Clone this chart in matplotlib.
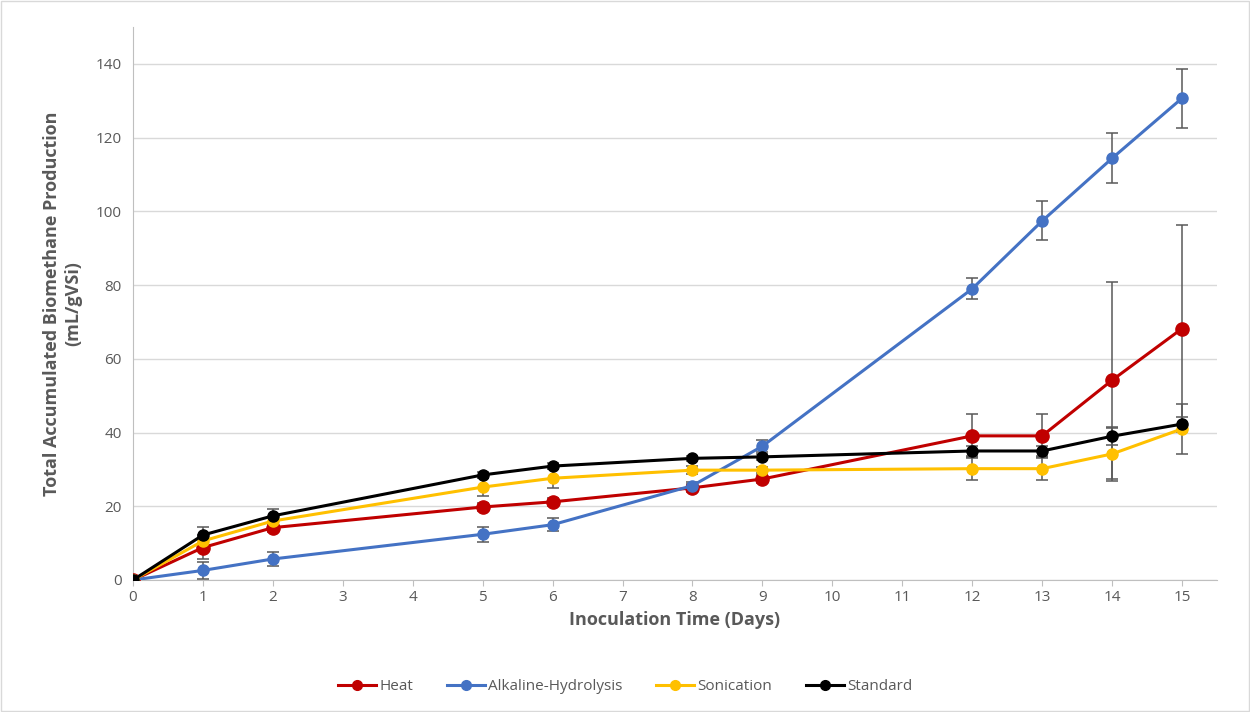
import numpy as np
import matplotlib.pyplot as plt
from matplotlib.lines import Line2D

plt.rcParams['font.family'] = ['Open Sans', 'DejaVu Sans']

days = [0, 1, 2, 5, 6, 8, 9, 12, 13, 14, 15]

heat = [0, 8.8, 14.2, 19.8, 21.2, 25.0, 27.4, 39.1, 39.1, 54.2, 68.2]
heat_err = [0, 3.2, 1.2, 1.0, 1.0, 1.0, 1.2, 6.0, 6.0, 26.7, 28.0]

alkaline = [0, 2.6, 5.7, 12.4, 15.0, 25.6, 36.3, 79.0, 97.4, 114.4, 130.7]
alkaline_err = [0, 2.3, 2.0, 2.0, 1.8, 1.0, 1.6, 2.8, 5.3, 6.8, 8.0]

sonication = [0, 10.6, 16.0, 25.2, 27.6, 29.8, 29.8, 30.2, 30.2, 34.2, 41.0]
sonication_err = [0, 1.5, 1.0, 2.5, 2.6, 1.0, 0.8, 3.2, 3.2, 7.4, 6.7]

standard = [0, 12.2, 17.4, 28.5, 30.9, 33.0, 33.4, 35.0, 35.0, 39.0, 42.3]
standard_err = [0, 2.2, 1.8, 0.8, 0.8, 0.6, 0.8, 1.4, 1.4, 2.3, 2.0]

series = [
    ("Heat", heat, heat_err, "#C00000", 9.5),
    ("Alkaline-Hydrolysis", alkaline, alkaline_err, "#4472C4", 8),
    ("Sonication", sonication, sonication_err, "#FFC000", 8),
    ("Standard", standard, standard_err, "#000000", 8),
]

fig = plt.figure(figsize=(12.5, 7.12), dpi=100)
ax = fig.add_axes([0.1064, 0.1854, 0.8672, 0.7766])

handles = []
for name, vals, err, col, ms in series:
    ax.errorbar(days, vals, yerr=err, color=col, lw=2.2, marker='o', ms=ms,
                ecolor='#595959', elinewidth=1.1, capsize=4, capthick=1.1,
                zorder=3)
    handles.append(Line2D([], [], color=col, lw=2.2, marker='o', ms=7, label=name))

ax.set_xlim(0, 15.5)
ax.set_ylim(0, 150)
ax.set_xticks(range(0, 16))
ax.set_yticks(range(0, 141, 20))
ax.grid(axis='y', color='#D9D9D9', lw=1)
ax.set_axisbelow(True)
for s in ['top', 'right']:
    ax.spines[s].set_visible(False)
for s in ['left', 'bottom']:
    ax.spines[s].set_color('#BFBFBF')
ax.tick_params(colors='#595959', labelsize=11, length=4)
ax.tick_params(axis='y', length=0, pad=8)
ax.tick_params(axis='x', color='#BFBFBF')

ax.set_xlabel("Inoculation Time (Days)", fontsize=13, fontweight='bold', color='#595959')
ax.set_ylabel("Total Accumulated Biomethane Production\n(mL/gVSi)", fontsize=13,
              fontweight='bold', color='#595959', labelpad=10)

leg = fig.legend(handles=handles, loc='center', bbox_to_anchor=(0.5, 0.036), ncol=4,
                 frameon=False, fontsize=11, handlelength=2.5, columnspacing=2.2,
                 handletextpad=0.2)
for t in leg.get_texts():
    t.set_color('#595959')

fig.patches.append(plt.Rectangle((0.001, 0.001), 0.998, 0.998, transform=fig.transFigure,
                                 fill=False, edgecolor='#D9D9D9', lw=1))

fig.savefig("out.png", dpi=100)
